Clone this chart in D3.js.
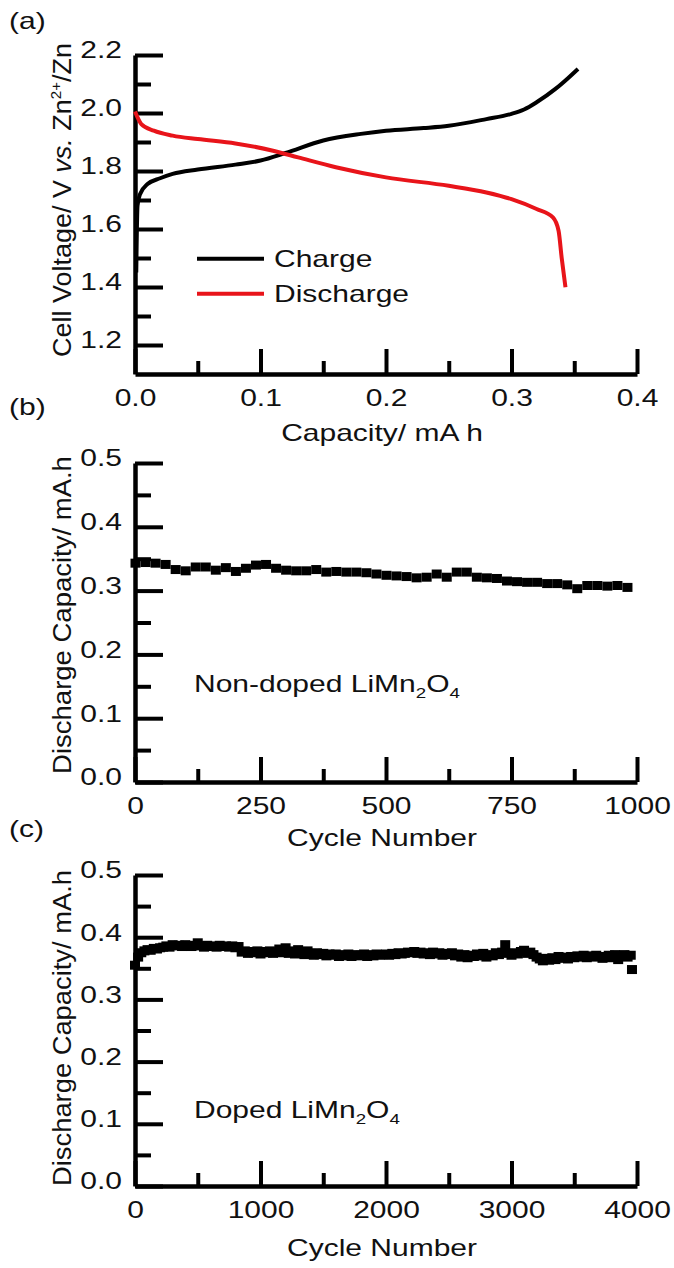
<!DOCTYPE html>
<html>
<head>
<meta charset="utf-8">
<script src="https://cdn.jsdelivr.net/npm/d3@7"></script>
<style>
  body { margin: 0; background: #fff; }
  text { font-family: "Liberation Sans", Arial, sans-serif; fill: #111; }
</style>
</head>
<body>
<div id="chart"></div>
<script>
// (a) charge / discharge profile
const chargeCap  = [0.001, 0.002, 0.004, 0.01, 0.02, 0.03, 0.05, 0.08, 0.1, 0.12, 0.15, 0.18, 0.2, 0.23, 0.25, 0.28, 0.3, 0.31, 0.32, 0.335, 0.345, 0.353];
const chargeVolt = [1.45, 1.68, 1.72, 1.755, 1.775, 1.79, 1.805, 1.822, 1.836, 1.862, 1.905, 1.928, 1.939, 1.948, 1.956, 1.979, 1.997, 2.012, 2.037, 2.083, 2.12, 2.152];
const dischargeCap  = [0.0, 0.005, 0.015, 0.03, 0.05, 0.08, 0.11, 0.13, 0.16, 0.2, 0.25, 0.28, 0.3, 0.32, 0.333, 0.3375, 0.34, 0.343];
const dischargeVolt = [2.005, 1.962, 1.939, 1.922, 1.91, 1.895, 1.87, 1.847, 1.813, 1.778, 1.749, 1.726, 1.703, 1.669, 1.64, 1.594, 1.5, 1.399];

// (b) non-doped cycling
const cyclesB = [1, 21, 41, 61, 81, 101, 121, 141, 161, 181, 201, 221, 241, 261, 281, 301, 321, 341, 361, 381,
  401, 421, 441, 461, 481, 501, 521, 541, 561, 581, 601, 621, 641, 661, 681, 701, 721, 741, 761, 781,
  801, 821, 841, 861, 881, 901, 921, 941, 961, 981];
const capB = [0.343, 0.344, 0.343, 0.341, 0.333, 0.331, 0.337, 0.337, 0.332, 0.336, 0.330, 0.335, 0.340, 0.341, 0.335, 0.332, 0.331, 0.331, 0.333, 0.329,
  0.330, 0.329, 0.329, 0.328, 0.326, 0.324, 0.323, 0.322, 0.320, 0.321, 0.326, 0.321, 0.329, 0.329, 0.321, 0.320, 0.319, 0.315, 0.314, 0.313,
  0.313, 0.311, 0.311, 0.309, 0.303, 0.308, 0.308, 0.307, 0.308, 0.305];

// (c) doped cycling
const cyclesC = [0, 25, 50, 75, 100, 125, 150, 175, 200, 225,
  250, 275, 300, 325, 350, 375, 400, 425, 450, 475,
  500, 525, 550, 575, 600, 625, 650, 675, 700, 725,
  750, 775, 800, 825, 850, 875, 900, 925, 950, 975,
  1000, 1025, 1050, 1075, 1100, 1125, 1150, 1175, 1200, 1225,
  1250, 1275, 1300, 1325, 1350, 1375, 1400, 1425, 1450, 1475,
  1500, 1525, 1550, 1575, 1600, 1625, 1650, 1675, 1700, 1725,
  1750, 1775, 1800, 1825, 1850, 1875, 1900, 1925, 1950, 1975,
  2000, 2025, 2050, 2075, 2100, 2125, 2150, 2175, 2200, 2225,
  2250, 2275, 2300, 2325, 2350, 2375, 2400, 2425, 2450, 2475,
  2500, 2525, 2550, 2575, 2600, 2625, 2650, 2675, 2700, 2725,
  2750, 2775, 2800, 2825, 2850, 2875, 2900, 2925, 2950, 2975,
  3000, 3025, 3050, 3075, 3100, 3125, 3150, 3175, 3200, 3225,
  3250, 3275, 3300, 3325, 3350, 3375, 3400, 3425, 3450, 3475,
  3500, 3525, 3550, 3575, 3600, 3625, 3650, 3675, 3700, 3725,
  3750, 3775, 3800, 3825, 3850, 3875, 3900, 3925, 3950, 3960];
const capC = [0.355, 0.368, 0.375, 0.378, 0.380, 0.379, 0.382, 0.381, 0.383, 0.384,
  0.386, 0.384, 0.388, 0.386, 0.387, 0.385, 0.388, 0.386, 0.385, 0.387,
  0.391, 0.386, 0.384, 0.387, 0.385, 0.386, 0.384, 0.387, 0.385, 0.386,
  0.384, 0.386, 0.383, 0.385, 0.376, 0.378, 0.374, 0.377, 0.375, 0.378,
  0.373, 0.377, 0.375, 0.378, 0.374, 0.376, 0.381, 0.375, 0.383, 0.374,
  0.378, 0.373, 0.380, 0.376, 0.372, 0.378, 0.374, 0.371, 0.375, 0.372,
  0.374, 0.370, 0.373, 0.371, 0.373, 0.369, 0.372, 0.370, 0.373, 0.369,
  0.372, 0.370, 0.371, 0.373, 0.369, 0.372, 0.370, 0.373, 0.371, 0.372,
  0.373, 0.371, 0.374, 0.372, 0.375, 0.373, 0.374, 0.376, 0.375, 0.377,
  0.374, 0.376, 0.373, 0.375, 0.372, 0.376, 0.373, 0.375, 0.371, 0.374,
  0.372, 0.375, 0.370, 0.373, 0.368, 0.372, 0.367, 0.371, 0.369, 0.373,
  0.370, 0.374, 0.368, 0.372, 0.370, 0.375, 0.372, 0.376, 0.388, 0.374,
  0.371, 0.375, 0.373, 0.377, 0.379, 0.374, 0.376, 0.372, 0.368, 0.365,
  0.362, 0.366, 0.363, 0.367, 0.364, 0.369, 0.366, 0.368, 0.365, 0.369,
  0.367, 0.370, 0.368, 0.371, 0.367, 0.370, 0.368, 0.371, 0.369, 0.366,
  0.369, 0.371, 0.367, 0.372, 0.364, 0.369, 0.372, 0.368, 0.371, 0.348];

// ticks
const capTicks = [0.0, 0.1, 0.2, 0.3, 0.4];
const capMinor = [0.05, 0.15, 0.25, 0.35];
const voltTicks = [1.2, 1.4, 1.6, 1.8, 2.0, 2.2];
const voltMinor = [1.3, 1.5, 1.7, 1.9, 2.1];
const dcTicks = [0.0, 0.1, 0.2, 0.3, 0.4, 0.5];
const dcMinor = [0.05, 0.15, 0.25, 0.35, 0.45];
const cycleTicksB = [0, 250, 500, 750, 1000];
const cycleMinorB = [125, 375, 625, 875];
const cycleTicksC = [0, 1000, 2000, 3000, 4000];
const cycleMinorC = [500, 1500, 2500, 3500];

const width = 674, height = 1268;
const left = 135, right = 637;
const fs = 24;       // font size
const wide = 1.25;   // the figure's lettering is wider than Arial

const svg = d3.select("#chart").append("svg")
  .attr("width", width)
  .attr("height", height)
  .style("background", "#fff");

// widen text horizontally, keeping its anchor point in place
function stretch(sel, k) {
  sel.each(function() {
    const x0 = +(this.getAttribute("x") || 0);
    d3.select(this).attr("transform", `translate(${x0 * (1 - k)},0) scale(${k},1)`);
  });
}

function axes(x, y, o) {
  const g = svg.append("g");
  const yb = y.range()[0];

  const addAxis = (axis, tr, minor) => {
    const a = g.append("g").attr("transform", tr).call(axis);
    a.selectAll(".tick line").attr("stroke", "#000").attr("stroke-width", 4);
    a.selectAll(".tick text").style("font-size", fs + "px").attr("fill", "#111");
    a.select(".domain").attr("stroke", minor ? "none" : "#000").attr("stroke-width", 4.5);
    return a;
  };

  addAxis(d3.axisBottom(x).tickValues(o.xMinor).tickSizeInner(-13).tickSizeOuter(0).tickFormat(""), `translate(0,${yb})`, true);
  addAxis(d3.axisLeft(y).tickValues(o.yMinor).tickSizeInner(-16).tickSizeOuter(0).tickFormat(""), `translate(${left},0)`, true);
  const ax = addAxis(d3.axisBottom(x).tickValues(o.xTicks).tickSizeInner(-25).tickSizeOuter(0).tickPadding(15).tickFormat(o.xFmt), `translate(0,${yb})`, false);
  const ay = addAxis(d3.axisLeft(y).tickValues(o.yTicks).tickSizeInner(-28).tickSizeOuter(0).tickPadding(13).tickFormat(d3.format(".1f")), `translate(${left},0)`, false);
  ay.selectAll(".tick text").attr("dy", "0.12em");
  stretch(ax.selectAll(".tick text"), wide);
  stretch(ay.selectAll(".tick text"), wide);

  // x title
  const xt = g.append("text")
    .attr("x", (left + right) / 2 - 4)
    .attr("y", yb + o.xTitleDy)
    .attr("text-anchor", "middle")
    .style("font-size", fs + "px")
    .text(o.xTitle);

  // panel letter
  const lt = g.append("text")
    .attr("x", 9)
    .attr("y", o.letterY)
    .style("font-size", fs + "px")
    .text(o.letter);
  stretch(xt, wide);
  stretch(lt, wide);
  return g;
}

// rotated title, scaled along its length to the measured span
function yTitle(cy, len, parts) {
  const t = svg.append("text")
    .attr("text-anchor", "middle")
    .style("font-size", "25px");
  parts.forEach(p => {
    const s = t.append("tspan").text(p.t);
    if (p.italic) s.style("font-style", "italic");
    if (p.size) s.style("font-size", p.size + "px");
    if (p.dy) s.attr("dy", p.dy);
  });
  const k = len / t.node().getComputedTextLength();
  t.attr("transform", `translate(71,${cy}) rotate(-90) scale(${k},1)`);
}

function formula(x, y, name) {
  const t = svg.append("text").attr("x", x).attr("y", y).style("font-size", fs + "px");
  t.append("tspan").text(name + " LiMn");
  t.append("tspan").attr("dy", 6).style("font-size", "15px").text("2");
  t.append("tspan").attr("dy", -6).text("O");
  t.append("tspan").attr("dy", 6).style("font-size", "15px").text("4");
  stretch(t, wide);
}

// ---------- (a) ----------
const xA = d3.scaleLinear().domain([0, 0.4]).range([left, right]);
const yA = d3.scaleLinear().domain([1.1, 2.2]).range([374, 55]);

axes(xA, yA, {
  xTicks: capTicks, xMinor: capMinor, yTicks: voltTicks, yMinor: voltMinor,
  xFmt: d3.format(".1f"), xTitle: "Capacity/ mA h", xTitleDy: 67, letter: "(a)", letterY: 29
});
yTitle(200, 314, [
  { t: "Cell Voltage/ V " }, { t: "vs.", italic: true }, { t: " Zn" },
  { t: "2+", size: 14, dy: -10 }, { t: "/Zn", dy: 10 }
]);

const line = d3.line().curve(d3.curveMonotoneX);
svg.append("path")
  .attr("d", line(chargeCap.map((c, i) => [xA(c), yA(chargeVolt[i])])))
  .attr("fill", "none").attr("stroke", "#000").attr("stroke-width", 4);
svg.append("path")
  .attr("d", line(dischargeCap.map((c, i) => [xA(c), yA(dischargeVolt[i])])))
  .attr("fill", "none").attr("stroke", "#e8141a").attr("stroke-width", 4);

// legend
const legend = [{ name: "Charge", color: "#000", v: 1.497 }, { name: "Discharge", color: "#e8141a", v: 1.377 }];
legend.forEach(d => {
  svg.append("line")
    .attr("x1", 197).attr("x2", 264)
    .attr("y1", yA(d.v)).attr("y2", yA(d.v))
    .attr("stroke", d.color).attr("stroke-width", 4);
  const t = svg.append("text")
    .attr("x", 274).attr("y", yA(d.v) + 8)
    .style("font-size", fs + "px")
    .text(d.name);
  stretch(t, wide);
});

// ---------- (b) ----------
const xB = d3.scaleLinear().domain([0, 1000]).range([left, right]);
const yB = d3.scaleLinear().domain([0, 0.5]).range([782, 463]);

axes(xB, yB, {
  xTicks: cycleTicksB, xMinor: cycleMinorB, yTicks: dcTicks, yMinor: dcMinor,
  xFmt: d3.format("d"), xTitle: "Cycle Number", xTitleDy: 64, letter: "(b)", letterY: 415
});
yTitle(615, 318, [{ t: "Discharge Capacity/ mA.h" }]);

const mw = 10, mh = 9;
svg.append("g").selectAll("rect")
  .data(cyclesB.map((c, i) => [c, capB[i]]))
  .join("rect")
  .attr("x", d => xB(d[0]) - mw / 2)
  .attr("y", d => yB(d[1]) - mh / 2)
  .attr("width", mw).attr("height", mh)
  .attr("fill", "#000");

formula(194, 692, "Non-doped");

// ---------- (c) ----------
const xC = d3.scaleLinear().domain([0, 4000]).range([left, right]);
const yC = d3.scaleLinear().domain([0, 0.5]).range([1186, 875]);

axes(xC, yC, {
  xTicks: cycleTicksC, xMinor: cycleMinorC, yTicks: dcTicks, yMinor: dcMinor,
  xFmt: d3.format("d"), xTitle: "Cycle Number", xTitleDy: 70, letter: "(c)", letterY: 837
});
yTitle(1028, 316, [{ t: "Discharge Capacity/ mA.h" }]);

svg.append("g").selectAll("rect")
  .data(cyclesC.map((c, i) => [c, capC[i]]))
  .join("rect")
  .attr("x", d => xC(d[0]) - mw / 2)
  .attr("y", d => yC(d[1]) - mh / 2)
  .attr("width", mw).attr("height", mh)
  .attr("fill", "#000");

formula(194, 1118, "Doped");
</script>
</body>
</html>
